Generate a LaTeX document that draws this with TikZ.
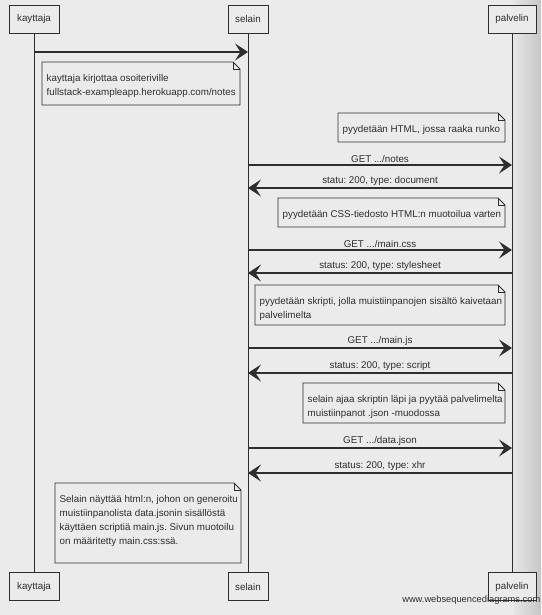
\documentclass[tikz,border=0pt]{standalone}
\usepackage{fontspec}
\setmainfont{Liberation Sans}
\usetikzlibrary{arrows.meta}
\definecolor{bg}{HTML}{EBEBEB}
\definecolor{ink}{HTML}{2E2E2E}
\definecolor{edgeA}{HTML}{E6E6E6}
\definecolor{edgeB}{HTML}{C6C6C6}
\newcommand\seqnote[6]{%
  \draw[notebox] (#2,#3) -- (#4-7,#3) -- (#4,#3+7) -- (#4,#5) -- (#2,#5) -- cycle;
  \draw[notebox,fill=none] (#4-7,#3) -- (#4-7,#3+7) -- (#4,#3+7);
  \node[notetext] (#1) at (#2+4.5,#3+12.5) {#6};}
\begin{document}
\frenchspacing
\begin{tikzpicture}[x=1pt,y=-1pt,
  every node/.style={font=\fontsize{9.8}{14}\selectfont, text=ink},
  actor/.style={draw=ink, line width=0.9pt, minimum height=28pt, inner sep=0pt, fill=bg},
  life/.style={draw=ink, line width=0.8pt},
  msg/.style={draw=ink, line width=1.2pt, -{Stealth[length=13pt,width=17pt,inset=5.5pt]}},
  lbl/.style={above, inner sep=1.5pt},
  notebox/.style={draw=ink, line width=0.9pt, fill=bg},
  notetext/.style={anchor=north west, align=left, inner sep=0pt}]
\useasboundingbox (0,0) rectangle (541,615);
\fill[bg] (0,0) rectangle (541,615);
\shade[left color=edgeA, right color=edgeB] (513,0) rectangle (541,615);
% actors
\node[actor, minimum width=50pt] (kt) at (34,19) {kayttaja};
\node[actor, minimum width=40pt] (st) at (248,19) {selain};
\node[actor, minimum width=48pt] (pt) at (512,19) {palvelin};
\node[actor, minimum width=50pt] (kb) at (34,586.5) {kayttaja};
\node[actor, minimum width=40pt] (sb) at (248,586.5) {selain};
\node[actor, minimum width=48pt] (pb) at (512,586.5) {palvelin};
\draw[life] (kt) -- (kb);
\draw[life] (st) -- (sb);
\draw[life] (pt) -- (pb);
% message end points on the lifelines
\foreach \n/\y in {1/52,2/165,3/188,4/250,5/273,6/348,7/373,8/448,9/473}{
  \coordinate (k\n) at (34,\y);
  \coordinate (s\n) at (248,\y);
  \coordinate (p\n) at (512,\y);}
\draw[msg] (k1) -- (s1);
\seqnote{n1}{42}{62}{240}{105}{kayttaja kirjottaa osoiteriville\\fullstack-exampleapp.herokuapp.com/notes}
\seqnote{n2}{338}{113}{505}{142}{pyydetään HTML, jossa raaka runko}
\draw[msg] (s2) -- node[lbl] (l2) {GET .../notes} (p2);
\draw[msg] (p3) -- node[lbl] (l3) {statu: 200, type: document} (s3);
\seqnote{n3}{278}{198}{505}{227}{pyydetään CSS-tiedosto HTML:n muotoilua varten}
\draw[msg] (s4) -- node[lbl] (l4) {GET .../main.css} (p4);
\draw[msg] (p5) -- node[lbl] (l5) {status: 200, type: stylesheet} (s5);
\seqnote{n4}{255}{285}{505}{325}{pyydetään skripti, jolla muistiinpanojen sisältö kaivetaan\\palvelimelta}
\draw[msg] (s6) -- node[lbl] (l6) {GET .../main.js} (p6);
\draw[msg] (p7) -- node[lbl] (l7) {status: 200, type: script} (s7);
\seqnote{n5}{303}{383}{505}{423}{selain ajaa skriptin läpi ja pyytää palvelimelta\\muistiinpanot .json -muodossa}
\draw[msg] (s8) -- node[lbl] (l8) {GET .../data.json} (p8);
\draw[msg] (p9) -- node[lbl] (l9) {status: 200, type: xhr} (s9);
\seqnote{n6}{55}{483}{241}{563}{Selain näyttää html:n, johon on generoitu\\muistiinpanolista data.jsonin sisällöstä\\käyttäen scriptiä main.js. Sivun muotoilu\\on määritetty main.css:ssä.}
\node[anchor=east, inner sep=0.5pt, font=\fontsize{9.3}{11}\selectfont] (wm) at (541,600) {www.websequencediagrams.com};
\end{tikzpicture}
\end{document}
